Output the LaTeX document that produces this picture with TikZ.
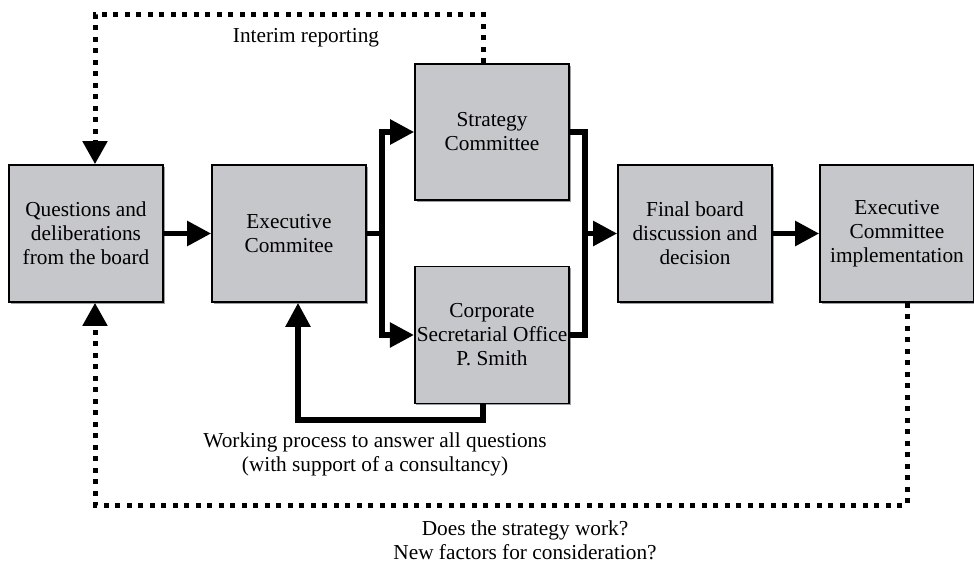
\documentclass[tikz,border=0pt]{standalone}
\usepackage{fontspec}
\setmainfont{Liberation Serif}
\usetikzlibrary{arrows.meta,shadows}
\definecolor{boxgray}{HTML}{C6C7CA}
\begin{document}
\begin{tikzpicture}[x=1pt,y=-1pt,
  font=\fontsize{21.3}{24}\selectfont,
  blk/.style={draw=black, line width=1.7pt, fill=boxgray, align=center,
    minimum width=154pt, minimum height=137pt, inner sep=2pt,
    drop shadow={shadow xshift=1.6pt, shadow yshift=-1.6pt, fill=gray!75, opacity=1}},
  flow/.style={line width=5.5pt, -{Triangle[length=24pt,width=24pt]}},
  link/.style={line width=5.5pt},
  fbk/.style={line width=5pt, dash pattern=on 5pt off 6.5pt, -{Triangle[length=23pt,width=24pt]}}]

\useasboundingbox (0,0) rectangle (974,562);

\node[blk] (qb) at (86,233.5) {Questions and\\deliberations\\from the board};
\node[blk] (ec) at (289,233.5) {Executive\\Commitee};
\node[blk, minimum height=136pt] (sc) at (492,132) {Strategy\\Committee};
\node[blk] (cs) at (492,335) {Corporate\\Secretarial Office\\P. Smith};
\node[blk] (fb) at (695,233.5) {Final board\\discussion and\\decision};
\node[blk] (ei) at (897,233.5) {Executive\\Committee\\implementation};

% junctions
\coordinate (j1) at (382,233.5);
\coordinate (j2) at (585,233.5);
\coordinate (w1) at (483,420);
\coordinate (w2) at (298,420);
\coordinate (t1) at (483,14);
\coordinate (t2) at (95,14);
\coordinate (b1) at (907,505);
\coordinate (b2) at (95,505);

\draw[flow] (qb) -- (ec);
\draw[link] (ec.east) -- (j1);
\draw[flow] (j1) |- (sc.west);
\draw[flow] (j1) |- (cs.west);
\draw[link] (sc.east) -| (j2);
\draw[link] (cs.east) -| (j2);
\draw[flow] (j2) -- (fb.west);
\draw[flow] (fb) -- (ei);
\draw[flow] (cs.south -| w1) -- (w1) -- (w2) -- (ec.south -| w2);

\draw[fbk] (sc.north -| t1) -- (t1) -- (t2) -- (qb.north -| t2);
\draw[fbk] (ei.south -| b1) -- (b1) -- (b2) -- (qb.south -| b2);

\node (ir) at (306,38) {Interim reporting};
\node[align=center] (wp) at (375,454) {Working process to answer all questions\\(with support of a consultancy)};
\node[align=center] (dq) at (525,540) {Does the strategy work?\\New factors for consideration?};
\end{tikzpicture}
\end{document}
